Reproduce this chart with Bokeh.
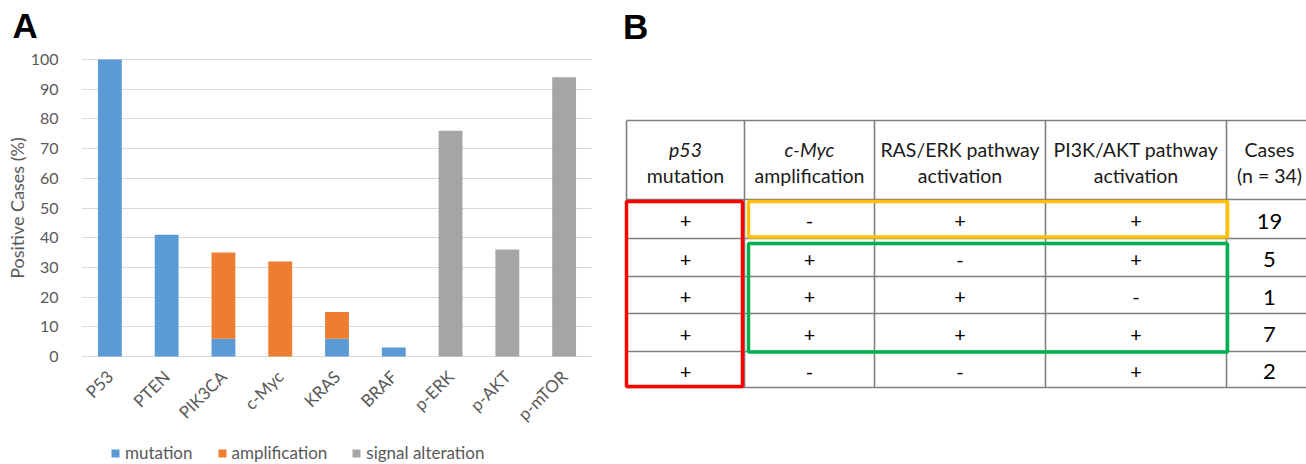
from math import pi
from bokeh.plotting import figure
from bokeh.layouts import row, column
from bokeh.models import (ColumnDataSource, Range1d, FactorRange, FixedTicker,
                          Legend, LegendItem, Label)
from bokeh.core.properties import value
from bokeh.embed import file_html
from bokeh.resources import INLINE

# ---------------- Panel A data ----------------
genes = ["P53", "PTEN", "PIK3CA", "c-Myc", "KRAS", "BRAF", "p-ERK", "p-AKT", "p-mTOR"]
mutation = [100, 41, 6, 0, 6, 3, 0, 0, 0]
amplification = [0, 0, 29, 32, 9, 0, 0, 0, 0]
signal_alteration = [0, 0, 0, 0, 0, 0, 76, 36, 94]
series_names = ["mutation", "amplification", "signal alteration"]
series_colors = ["#5B9BD5", "#ED7D31", "#A5A5A5"]
y_ticks = [0, 10, 20, 30, 40, 50, 60, 70, 80, 90, 100]
y_title = "Positive Cases (%)"

# ---------------- Panel B data ----------------
header_line1 = ["p53", "c-Myc", "RAS/ERK pathway", "PI3K/AKT pathway", "Cases"]
header_line2 = ["mutation", "amplification", "activation", "activation", "(n = 34)"]
header_italic1 = [True, True, False, False, False]
p53_mutation = ["+", "+", "+", "+", "+"]
cmyc_amplification = ["-", "+", "+", "+", "-"]
ras_erk_activation = ["+", "-", "+", "+", "-"]
pi3k_akt_activation = ["+", "+", "-", "+", "+"]
cases = [19, 5, 1, 7, 2]

TXT = "#595959"
FONT = "Lato"


def blank_figure(w, h, xr, yr):
    f = figure(width=w, height=h, x_range=xr, y_range=yr, x_axis_type=None,
               y_axis_type=None, min_border=0, toolbar_location=None,
               output_backend="svg")
    f.frame_align = False
    f.outline_line_color = None
    f.grid.visible = False
    return f


# ================= Panel A =================
# ---- strip holding the panel letter ----
top = blank_figure(612, 46, Range1d(0, 612), Range1d(46, 0))
top.add_layout(Label(x=12, y=25, text="A", text_font="Liberation Sans",
                     text_font_style="bold", text_font_size="35px",
                     text_color="black", text_align="left", text_baseline="middle"))

src = ColumnDataSource(dict(gene=genes, mutation=mutation,
                            amplification=amplification,
                            signal=signal_alteration))

p = figure(width=612, height=388, x_range=FactorRange(*genes, range_padding=0),
           y_range=Range1d(-0.35, 100.35), toolbar_location=None,
           output_backend="svg", min_border_left=81, min_border_right=20,
           min_border_top=12, min_border_bottom=77)
p.frame_align = False
p.outline_line_color = None
rs = p.vbar_stack(["mutation", "amplification", "signal"], x="gene", width=0.42,
                  color=series_colors, line_color=None, source=src)

p.xgrid.grid_line_color = None
p.ygrid.grid_line_color = "#D9D9D9"
p.ygrid.grid_line_width = 1
p.yaxis.ticker = FixedTicker(ticks=y_ticks)
p.yaxis.axis_line_color = None
p.yaxis.major_tick_line_color = None
p.yaxis.minor_tick_line_color = None
p.yaxis.major_label_standoff = 17
p.yaxis.major_label_text_font = FONT
p.yaxis.major_label_text_font_size = "16px"
p.yaxis.major_label_text_color = TXT
p.yaxis.axis_label = y_title
p.yaxis.axis_label_text_font = FONT
p.yaxis.axis_label_text_font_size = "18px"
p.yaxis.axis_label_text_font_style = "normal"
p.yaxis.axis_label_text_color = TXT
p.yaxis.axis_label_standoff = 0

p.xaxis.axis_line_color = None
p.xaxis.major_tick_line_color = None
p.xaxis.minor_tick_line_color = None
p.xaxis.major_label_orientation = pi / 4
p.xaxis.major_label_standoff = 10
p.xaxis.major_label_text_font = FONT
p.xaxis.major_label_text_font_size = "17px"
p.xaxis.major_label_text_font_style = "normal"
p.xaxis.major_label_text_color = TXT

# ---- legend strip under panel A ----
leg = blank_figure(612, 30, Range1d(0, 612), Range1d(0, 30))
# legend swatch proxies (kept outside the visible range)
swatches = [leg.vbar(x=[-1000], top=[0], width=1, fill_color=c, line_color=None)
            for c in series_colors]
legend = Legend(items=[LegendItem(label=n, renderers=[r]) for n, r in zip(series_names, swatches)],
                orientation="horizontal", location=(110, 1), padding=0, margin=0,
                spacing=24, label_standoff=5, glyph_width=10, glyph_height=10,
                label_text_font=FONT, label_text_font_size="17px",
                label_text_color=TXT, border_line_color=None,
                background_fill_alpha=0)
leg.add_layout(legend, "center")

# ================= Panel B (table) =================
col_edges = [626, 744, 874, 1045, 1226, 1340]
row_edges = [120, 199, 238, 276, 313, 351, 387]
col_centers = [685, 809, 959.5, 1135.5, 1269]
row_centers = [(row_edges[i] + row_edges[i + 1]) / 2 + 2 for i in range(1, 6)]

q = blank_figure(694, 464, Range1d(612, 1306), Range1d(464, 0))

GRID = "#7F7F7F"
q.segment(x0=[col_edges[0]] * len(row_edges), x1=[col_edges[-1]] * len(row_edges),
          y0=row_edges, y1=row_edges, line_color=GRID, line_width=1.6)
q.segment(x0=col_edges[:-1], x1=col_edges[:-1], y0=[row_edges[0]] * 5,
          y1=[row_edges[-1]] * 5, line_color=GRID, line_width=1.6)

# highlight boxes
q.quad(left=[626], right=[742], top=[201], bottom=[386], fill_color=None,
       line_color="#FF0000", line_width=3.5)
q.quad(left=[748], right=[1227], top=[201], bottom=[236.5], fill_color=None,
       line_color="#FFC000", line_width=3.5)
q.quad(left=[748], right=[1227], top=[243], bottom=[351.5], fill_color=None,
       line_color="#00B050", line_width=3.5)

HDR = "#1A1A1A"
for j in range(5):
    q.text(x=[col_centers[j]], y=[148.5], text=[header_line1[j]], text_align="center",
           text_baseline="middle", text_font=value(FONT),
           text_font_size=value("19.5px"), text_color=HDR,
           text_font_style="italic" if header_italic1[j] else "normal")
q.text(x=col_centers, y=[174.5] * 5, text=header_line2, text_align="center",
       text_baseline="middle", text_font=value(FONT),
       text_font_size=value("19.5px"), text_color=HDR)

for j, col in enumerate([p53_mutation, cmyc_amplification, ras_erk_activation,
                         pi3k_akt_activation]):
    q.text(x=[col_centers[j]] * 5, y=row_centers, text=col, text_align="center",
           text_baseline="middle", text_font=value(FONT),
           text_font_size=value("20px"), text_color="black")
q.text(x=[col_centers[4]] * 5, y=row_centers, text=[str(c) for c in cases],
       text_align="center", text_baseline="middle", text_font=value(FONT),
       text_font_size=value("22px"), text_color="black")

q.add_layout(Label(x=622.5, y=25.5, text="B", text_font="Liberation Sans",
                   text_font_style="bold", text_font_size="35px",
                   text_color="black", text_align="left", text_baseline="middle"))

layout = row(column(top, p, leg), q)
open("out.html", "w").write(file_html(layout, INLINE))
